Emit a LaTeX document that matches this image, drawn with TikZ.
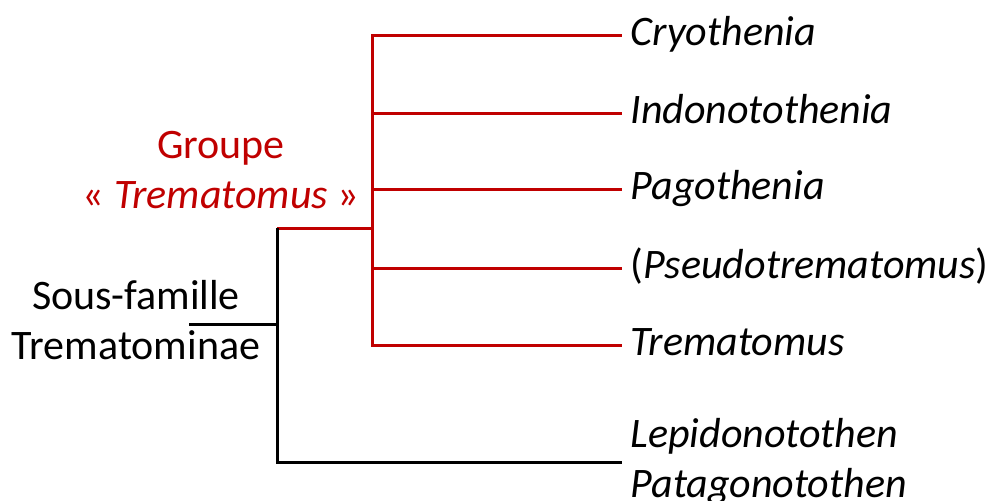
\documentclass[tikz,border=0pt]{standalone}
\usepackage{fontspec}
\setmainfont{Carlito}
\usepackage{xcolor}
\usetikzlibrary{calc, positioning}
\definecolor{cladered}{HTML}{C00000}

\begin{document}
\begin{tikzpicture}[x=1pt,y=-1pt,line width=3pt,
                    label text/.style={font=\fontsize{42}{50}\selectfont,inner sep=0pt},
                    tip node/.style={label text,anchor=west,inner xsep=7pt,text height=29pt,text depth=9pt},
                    red branch/.style={draw=cladered},
                    black branch/.style={draw=black}]
 \useasboundingbox (0,0) rectangle (994,501);

 \coordinate (root) at (189,324);
 \coordinate (sub) at (277,324);
 \coordinate (stem) at (277,228);
 \coordinate (grp) at (372,228);

 \foreach \y/\name/\txt in {35/cryo/{\textit{Cryothenia}},
                            113/indo/{\textit{Indonotothenia}},
                            189/pago/{\textit{Pagothenia}},
                            268/pseudo/{(\textit{Pseudotrematomus})},
                            345/trema/{\textit{Trematomus}}}
   {\node[tip node] (\name) at (622,\y) {\txt};
    \draw[red branch] (grp) |- (\name.west);}

 \node[label text,anchor=west,inner xsep=7pt,align=left] (basal) at (622,462)
      {\textit{Lepidonotothen}\\\textit{Patagonotothen}};

 \draw[red branch] (stem) -- (grp);
 \draw[black branch] (stem) |- (basal.west);
 \draw[black branch] (root) -- (sub);

 \node[label text,text=cladered,align=center] (grouplab) at (221,170) {Groupe\\« \textit{Trematomus} »};
 \node[label text,align=center] (sublab) at (136,320) {Sous-famille\\Trematominae};

\end{tikzpicture}
\end{document}
